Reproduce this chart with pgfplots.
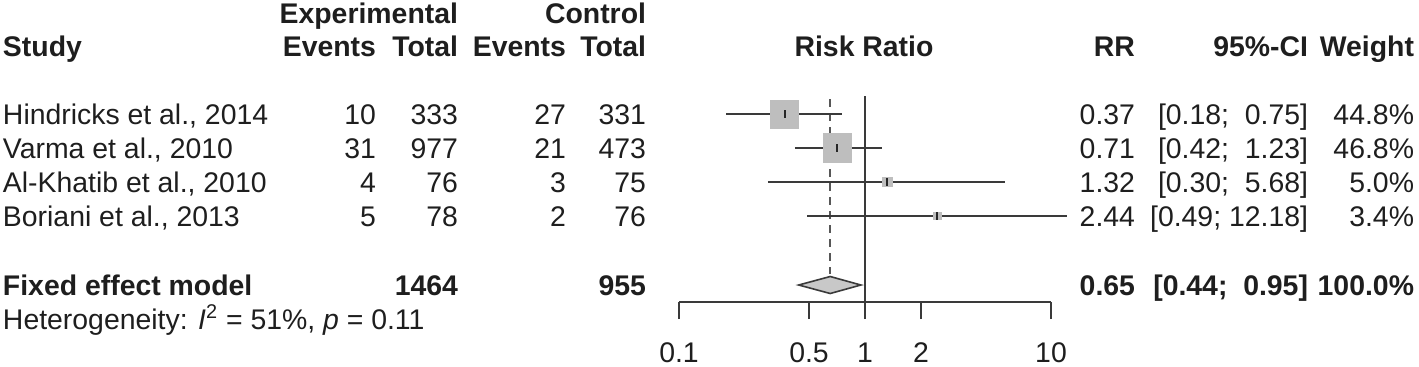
\documentclass[border=0pt]{standalone}
\usepackage{fontspec}
\setmainfont{Liberation Sans}
\usepackage{pgfplots}
\pgfplotsset{compat=1.18}
\definecolor{txt}{HTML}{1E1E1E}
\definecolor{ln}{HTML}{3A3A3A}
\definecolor{sq}{HTML}{BEBEBE}
\definecolor{dm}{HTML}{C8C8C8}
\newcommand{\fs}{\fontsize{14.2}{16}\selectfont}
\begin{document}
\begin{tikzpicture}[
  tx/.style={inner sep=0pt, outer sep=0pt, text=txt, font=\fs},
  bx/.style={inner sep=0pt, outer sep=0pt, text=txt, font=\fs\bfseries},
  R/.style={anchor=base east}, L/.style={anchor=base west}]
\begin{scope}[x=0.5pt,y=-0.5pt]
\path (0,0) rectangle (1419,366);
% headers
\node[bx,R] at (458,23) {Experimental};
\node[bx,R] at (646,23) {Control};
\node[bx,L] at (3,56) {Study};
\node[bx,R] at (376,56) {Events};
\node[bx,R] at (458,56) {Total};
\node[bx,R] at (566,56) {Events};
\node[bx,R] at (646,56) {Total};
\node[bx,anchor=base] at (864,56) {Risk Ratio};
\node[bx,R] at (1135,56) {RR};
\node[bx,R] at (1308,56) {95\%-CI};
\node[bx,R] at (1414,56) {Weight};
% rows
\foreach \yy/\name/\ee/\et/\ce/\ct/\rr/\ci/\w in {
  124/{Hindricks et al., 2014}/10/333/27/331/0.37/{[0.18;~~0.75]}/44.8\%,
  158/{Varma et al., 2010}/31/977/21/473/0.71/{[0.42;~~1.23]}/46.8\%,
  192/{Al-Khatib et al., 2010}/4/76/3/75/1.32/{[0.30;~~5.68]}/5.0\%,
  226/{Boriani et al., 2013}/5/78/2/76/2.44/{[0.49; 12.18]}/3.4\%}{
  \node[tx,L] at (3,\yy) {\name};
  \node[tx,R] at (376,\yy) {\ee};
  \node[tx,R] at (458,\yy) {\et};
  \node[tx,R] at (566,\yy) {\ce};
  \node[tx,R] at (646,\yy) {\ct};
  \node[tx,R] at (1135,\yy) {\rr};
  \node[tx,R] at (1308,\yy) {\ci};
  \node[tx,R] at (1414,\yy) {\w};
}
\node[bx,L] at (3,295) {Fixed effect model};
\node[bx,R] at (458,295) {1464};
\node[bx,R] at (646,295) {955};
\node[bx,R] at (1135,295) {0.65};
\node[bx,R] at (1308,295) {[0.44;~~0.95]};
\node[bx,R] at (1414,295) {100.0\%};
\node[tx,L] at (3,329) {Heterogeneity: \textit{I}\textsuperscript{2} = 51\%, \textit{p} = 0.11};
\end{scope}
\begin{axis}[at={(339.5pt,-151pt)}, anchor=south west, scale only axis,
  width=186pt, height=106pt,
  xmode=log, xmin=0.1, xmax=10, ymin=-302, ymax=-90,
  axis x line*=bottom, axis y line=none, clip=false,
  xtick={0.1,0.5,1,2,10}, xticklabels={0.1,0.5,1,2,10}, xminorticks=false,
  tick align=outside, major tick length=8.5pt,
  x axis line style={ln, line width=1pt},
  xtick style={ln, line width=1pt},
  xticklabel style={font=\fs, text=txt, anchor=base, inner sep=0pt, yshift=-21.5pt},
  /pgf/number format/assume math mode=true]
% squares
\addplot[only marks, mark=square*, mark size=7pt, mark options={fill=sq, draw=sq}] coordinates {(0.37,-114)};
\addplot[only marks, mark=square*, mark size=7.15pt, mark options={fill=sq, draw=sq}] coordinates {(0.71,-148)};
\addplot[only marks, mark=square*, mark size=2.34pt, mark options={fill=sq, draw=sq}] coordinates {(1.32,-182)};
\addplot[only marks, mark=square*, mark size=1.93pt, mark options={fill=sq, draw=sq}] coordinates {(2.44,-216)};
% reference lines
\addplot[ln, line width=1pt] coordinates {(1,-96) (1,-302)};
\addplot[ln!85, line width=0.8pt, dash pattern=on 4pt off 3pt] coordinates {(0.65,-99) (0.65,-274)};
% CIs
\addplot[ln, line width=1pt] coordinates {(0.18,-114) (0.75,-114)};
\addplot[ln, line width=1pt] coordinates {(0.42,-148) (1.23,-148)};
\addplot[ln, line width=1pt] coordinates {(0.30,-182) (5.68,-182)};
\addplot[ln, line width=1pt] coordinates {(0.49,-216) (12.18,-216)};
% point estimates
\addplot[only marks, mark=|, mark size=2pt, mark options={black!85, line width=1pt}] coordinates {(0.37,-114) (0.71,-148) (1.32,-182) (2.44,-216)};
% diamond
\addplot[fill=dm, draw=ln, line width=0.8pt] coordinates {(0.44,-285) (0.65,-276.5) (0.95,-285) (0.65,-293.5)} -- cycle;
\end{axis}
\end{tikzpicture}
\end{document}
